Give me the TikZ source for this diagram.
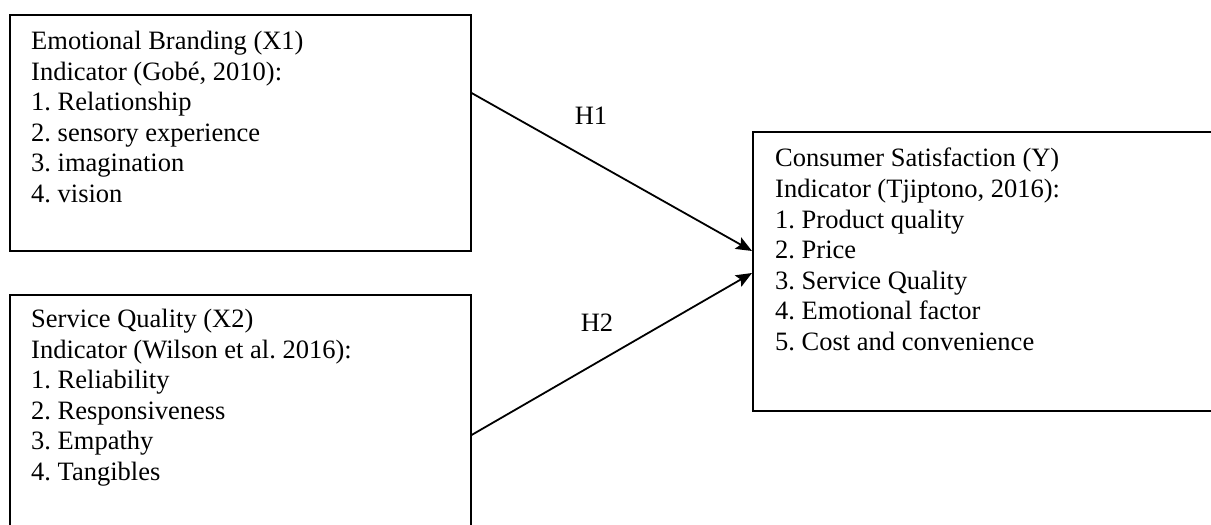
\documentclass[tikz,border=0pt]{standalone}
\usepackage{fontspec}
\setmainfont{Liberation Serif}
\usetikzlibrary{arrows.meta}
\frenchspacing
\begin{document}
\begin{tikzpicture}[x=1pt,y=-1pt,
  boxshape/.style={draw,line width=1.6pt,anchor=north west,inner sep=0pt},
  boxtext/.style={anchor=north west,inner sep=0pt,align=left,font=\fontsize{26.5}{30.6}\selectfont\frenchspacing},
  hlabel/.style={font=\fontsize{26.5}{30.6}\selectfont,inner sep=0pt},
  link/.style={line width=1.8pt,-{Stealth[length=16pt,width=13pt,inset=3pt]}}]
\useasboundingbox[fill=white] (0,0) rectangle (1211,525);
% boxes
\node[boxshape,minimum width=461pt,minimum height=236pt] (b1) at (9,14) {};
\node[boxshape,minimum width=461pt,minimum height=241pt] (b2) at (9,294) {};
\node[boxshape,minimum width=473pt,minimum height=279pt] (b3) at (752,131) {};
% texts
\node[boxtext] (t1) at (31,31) {Emotional Branding (X1)\\Indicator (Gobé, 2010):\\1. Relationship\\2. sensory experience\\3. imagination\\4. vision};
\node[boxtext] (t2) at (31,309) {Service Quality (X2)\\Indicator (Wilson et al. 2016):\\1. Reliability\\2. Responsiveness\\3. Empathy\\4. Tangibles};
\node[boxtext] (t3) at (775,148) {Consumer Satisfaction (Y)\\Indicator (Tjiptono, 2016):\\1. Product quality\\2. Price\\3. Service Quality\\4. Emotional factor\\5. Cost and convenience};
% connector end points on box edges
\path (b1.north east) ++(0,79) coordinate (s1);
\path (b2.north east) ++(0,141) coordinate (s2);
\path (b3.north west) ++(0,120) coordinate (e1);
\path (b3.north west) ++(0,142) coordinate (e2);
\draw[link] (s1) -- (e1);
\draw[link] (s2) -- (e2);
\node[hlabel] (h1) at (591,116) {H1};
\node[hlabel] (h2) at (597,323) {H2};
\end{tikzpicture}
\end{document}
